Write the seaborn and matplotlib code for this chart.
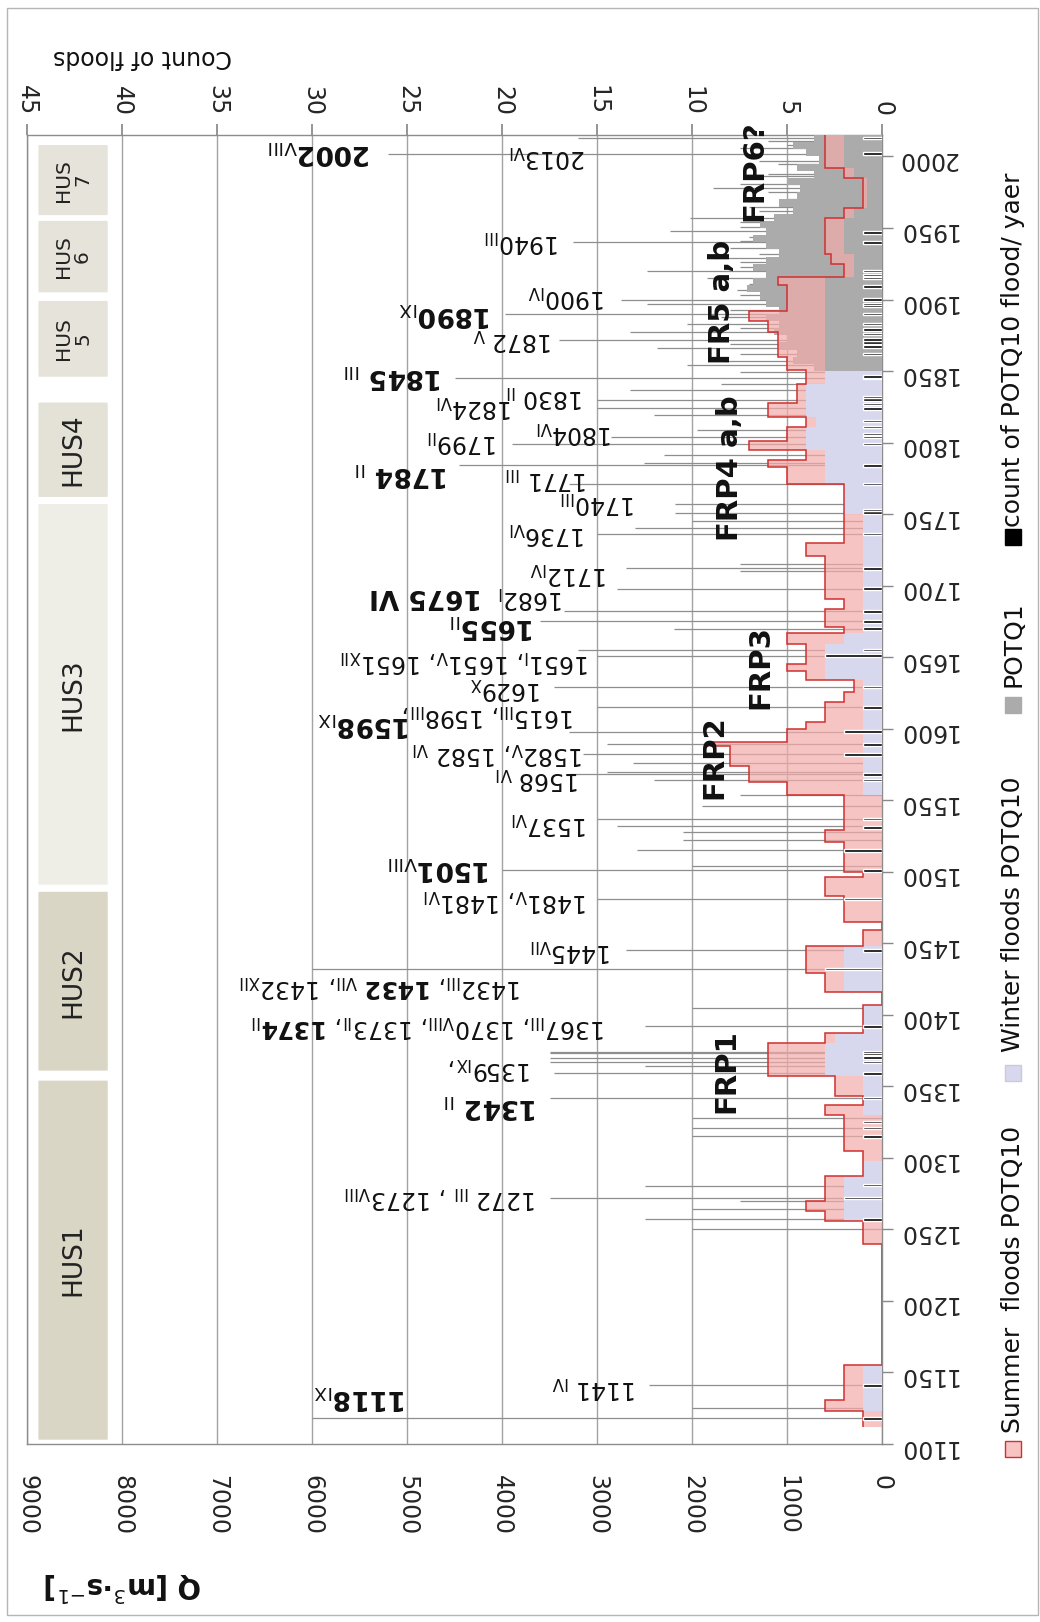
import matplotlib
matplotlib.use("Agg")
import matplotlib.pyplot as plt
from matplotlib.patches import FancyBboxPatch, Rectangle
import numpy as np
import seaborn as sns

# step series of POTQ10 flood counts (edges in years, one value per interval)
EDGES = [1112, 1116, 1123, 1131, 1155, 1240, 1256, 1263, 1270, 1287, 1298, 1305, 1330,
         1337, 1343, 1357, 1380, 1387, 1407, 1416, 1429, 1448, 1459, 1465, 1483, 1496,
         1500, 1521, 1529, 1554, 1563, 1574, 1588, 1591, 1600, 1605, 1619, 1626, 1634,
         1640, 1645, 1659, 1667, 1671, 1684, 1691, 1699, 1712, 1721, 1730, 1750, 1771,
         1783, 1788, 1795, 1801, 1811, 1818, 1828, 1841, 1851, 1860, 1877, 1885, 1892,
         1910, 1916, 1925, 1932, 1957, 1964, 1985, 1992, 2015]
TOTAL = [1, 1, 3, 2, 0, 1, 3, 4, 3, 1, 1, 2, 3,
         1, 2.5, 6, 3, 1, 0, 3, 4, 1, 0, 2, 3,
         1, 2, 3, 2, 5, 7, 8, 9, 5, 4, 3, 2, 1.5,
         4, 5, 4, 5, 2, 3, 2, 3, 3, 3, 4, 2, 2,
         5, 6, 4, 7, 5, 4, 6, 4.5, 4, 5, 5.5, 6, 7,
         5, 5.5, 2, 2.7, 3, 2, 1, 2, 3]
WINTER = [0, 0, 1, 1, 0, 0, 2, 2, 2, 1, 0, 0, 1,
          1, 1, 3, 2.5, 1, 0, 2, 2, 0, 0, 0, 0,
          0, 0, 0, 0, 1, 1, 1, 1, 1, 1, 1, 1, 1,
          3, 3, 3, 2, 1, 1, 1, 1, 1, 1, 1, 1, 2,
          3, 3, 3, 4, 4, 3.5, 4, 4, 3, 3, 3, 3, 3,
          3, 3, 1.5, 1.5, 2, 1.5, 0.8, 1.5, 2]

# POTQ1 counts, 5-year steps
GREY_EDGES = list(range(1850, 2016, 5))
GREY = [3.6, 4.7, 4.5, 5.4, 5.0, 5.7, 5.4, 6.1, 5.4, 6.1, 6.4, 7.1, 6.8, 6.1, 6.8, 6.1,
        5.4, 6.1, 6.8, 6.1, 6.4, 5.7, 4.7, 5.4, 4.5, 4.3, 5.0, 3.6, 4.5, 3.3, 4.0, 4.7, 3.6]

# count of POTQ10 floods per year
BAR_YEARS = [1118, 1141, 1257, 1272, 1281, 1315, 1321, 1325, 1342, 1359, 1367, 1370, 1373,
             1374, 1392, 1432, 1445, 1481, 1501, 1515, 1531, 1537, 1564, 1568, 1582, 1589,
             1598, 1615, 1629, 1651, 1655, 1670, 1675, 1682, 1698, 1712, 1736, 1751, 1753,
             1771, 1784, 1799, 1804, 1806, 1811, 1815, 1824, 1827, 1830, 1832, 1845, 1846,
             1862, 1867, 1870, 1872, 1876, 1879, 1883, 1890, 1896, 1897, 1900, 1909, 1915,
             1917, 1920, 1940, 1947, 2002, 2013]
BAR_COUNTS = [1, 1, 1, 2, 1, 1, 1, 1, 1, 1, 1, 1, 1,
              1, 1, 3, 1, 2, 1, 2, 1, 1, 1, 1, 2, 1,
              2, 1, 1, 3, 1, 1, 1, 1, 1, 1, 1, 1, 1,
              1, 1, 1, 1, 1, 1, 1, 1, 1, 1, 1, 1, 1,
              1, 1, 1, 1, 1, 1, 1, 1, 1, 1, 1, 1, 1,
              1, 1, 1, 1, 1, 1]

# peak discharges (grey lines)
EVENT_YEARS = [1118, 1125, 1141, 1250, 1257, 1264, 1270, 1272, 1280, 1315, 1321, 1328,
               1342, 1359, 1364, 1367, 1370, 1373, 1374, 1392, 1405, 1432, 1445, 1481,
               1501, 1504, 1515, 1522, 1528, 1532, 1537, 1546, 1554, 1564, 1568, 1570,
               1576, 1582, 1589, 1598, 1615, 1629, 1651, 1655, 1670, 1675, 1682, 1698,
               1710, 1712, 1715, 1736, 1740, 1745, 1751, 1757, 1771, 1784, 1786, 1791,
               1799, 1804, 1809, 1819, 1824, 1830, 1837, 1841, 1845, 1849, 1854, 1857,
               1862, 1866, 1869, 1872, 1877, 1880, 1883, 1888, 1890, 1893, 1897, 1900,
               1903, 1907, 1911, 1915, 1920, 1923, 1926, 1929, 1932, 1936, 1940, 1941,
               1944, 1948, 1951, 1954, 1957, 1962, 1965, 1970, 1975, 1978, 1981, 1986,
               1988, 1995, 1997, 2002, 2006, 2008, 2011, 2013]
EVENT_Q = [6000, 2000, 2450, 2000, 2490, 2000, 1490, 3500, 2490, 2000, 2000, 2000,
           3500, 3450, 2490, 3500, 3500, 3500, 3500, 2490, 2000, 6000, 2700, 3000,
           4000, 2000, 2580, 2090, 2090, 2790, 3000, 1900, 1490, 2400, 3300, 2890,
           2620, 3150, 2890, 3300, 3000, 3450, 3000, 3200, 2190, 3600, 3350, 2790,
           1490, 2700, 1490, 3000, 2600, 2000, 2180, 2180, 3300, 4450, 2510, 2300,
           3900, 2850, 1950, 2400, 3000, 3000, 2650, 1700, 4500, 1500, 2050, 1670,
           1500, 2370, 1600, 3400, 2650, 1500, 2050, 1700, 3970, 1600, 2470, 2750,
           1500, 1525, 1400, 1840, 2470, 1500, 1500, 1780, 1300, 1600, 3250, 1500,
           1400, 2230, 1500, 1500, 2020, 1300, 1400, 1000, 1200, 1780, 1500, 1300,
           1200, 1100, 1300, 5200, 1500, 1000, 1200, 3200]

# labelled floods: text, right edge (Q), year position, bold
LABELS = [
    (r"2002$_{\mathrm{VIII}}$", 5380, 2002.6, True),
    (r"2013$_{\mathrm{VI}}$", 3120, 2000.2, False),
    (r"1940$_{\mathrm{III}}$", 3390, 1940.8, False),
    (r"1900$_{\mathrm{IV}}$", 2900, 1902.3, False),
    (r"1890$_{\mathrm{IX}}$", 4100, 1889.5, True),
    (r"1872 $_{\mathrm{V}}$", 3460, 1872.0, False),
    (r"1845 $_{\mathrm{III}}$", 4620, 1846.4, True),
    (r"1830 $_{\mathrm{II}}$", 3140, 1832.4, False),
    (r"1824$_{\mathrm{VI}}$", 3880, 1825.4, False),
    (r"1804$_{\mathrm{VI}}$", 2830, 1807.0, False),
    (r"1799$_{\mathrm{II}}$", 4040, 1801.0, False),
    (r"1784 $_{\mathrm{II}}$", 4560, 1777.6, True),
    (r"1771 $_{\mathrm{III}}$", 3100, 1775.5, False),
    (r"1740$_{\mathrm{III}}$", 2590, 1758.7, False),
    (r"1736$_{\mathrm{VI}}$", 3120, 1737.0, False),
    (r"1712$_{\mathrm{IV}}$", 2880, 1708.5, False),
    (r"1682$_{\mathrm{I}}$", 3350, 1692.0, False),
    ("1675 VI", 4210, 1692.5, True),
    (r"1655$_{\mathrm{II}}$", 3650, 1671.5, True),
    (r"1651$_{\mathrm{I}}$, 1651$_{\mathrm{V}}$, 1651$_{\mathrm{XII}}$", 3070, 1647.0, False),
    (r"1629$_{\mathrm{X}}$", 3580, 1628.7, False),
    (r"1615$_{\mathrm{III}}$, 1598$_{\mathrm{III}}$,", 3230, 1609.8, False),
    (r"1598$_{\mathrm{IX}}$", 4960, 1602.8, True),
    (r"1582$_{\mathrm{V}}$, 1582 $_{\mathrm{VI}}$", 3140, 1583.2, False),
    (r"1568 $_{\mathrm{VI}}$", 3180, 1565.7, False),
    (r"1537$_{\mathrm{VI}}$", 3100, 1534.3, False),
    (r"1501$_{\mathrm{VIII}}$", 4120, 1502.8, True),
    (r"1481$_{\mathrm{V}}$, 1481$_{\mathrm{VI}}$", 3100, 1480.4, False),
    (r"1445$_{\mathrm{VII}}$", 2840, 1445.5, False),
    (r"1432$_{\mathrm{III}}$, $\mathbf{1432}$ $_{\mathrm{VII}}$, 1432$_{\mathrm{XII}}$", 3790, 1419.8, False),
    (r"1367$_{\mathrm{III}}$, 1370$_{\mathrm{VIII}}$, 1373$_{\mathrm{II}}$, $\mathbf{1374}$$_{\mathrm{II}}$", 2910, 1391.8, False),
    (r"1359$_{\mathrm{IX}}$,", 3680, 1362.9, False),
    (r"1342 $_{\mathrm{II}}$", 3620, 1335.9, True),
    (r"1272 $_{\mathrm{III}}$ , 1273$_{\mathrm{VIII}}$", 3630, 1272.9, False),
    (r"1141 $_{\mathrm{IV}}$", 2580, 1140.0, False),
    (r"1118$_{\mathrm{IX}}$", 5000, 1133.0, True),
]

FRP_TEXT = ["FRP1", "FRP2", "FRP3", "FRP4 a,b", "FR5 a,b", "FRP6?"]
FRP_COUNT = [8.2, 8.8, 6.4, 8.0, 8.4, 6.7]
FRP_YEAR = [1361, 1580, 1643, 1782, 1898, 1990]

HUS_NAMES = ["HUS1", "HUS2", "HUS3", "HUS4", "HUS\n5", "HUS\n6", "HUS\n7"]
HUS_START = [1103, 1361, 1491, 1762, 1846, 1905, 1959]
HUS_END = [1354, 1486, 1757, 1828, 1899, 1955, 2008]
HUS_COLORS = ["#d9d6c5", "#d9d6c5", "#eeede6", "#e4e2d7", "#e6e4da", "#e6e4da", "#e6e4da"]

sns.set_theme(style="white")
plt.rcParams["font.family"] = ["DejaVu Sans"]
plt.rcParams["mathtext.fontset"] = "dejavusans"

W, H = 1040, 1622
fig = plt.figure(figsize=(W / 100, H / 100), dpi=100)
ax = fig.add_axes([27 / W, 1 - 1444 / H, (882 - 27) / W, (1444 - 135) / H])

GRID = "#a3a3a3"
ax.set_xlim(9000, 0)
ax.set_ylim(1100, 2015)
ax.set_xticks(range(0, 9001, 1000))
ax.set_yticks(range(1100, 2001, 50))
ax.grid(axis="x", color=GRID, lw=1)
ax.grid(axis="y", visible=False)
ax.yaxis.tick_right()
ax.tick_params(axis="x", bottom=True, length=0, pad=22, labelrotation=270, labelsize=17)
ax.tick_params(axis="y", right=True, left=False, length=8, width=1, color="#888888",
               labelrotation=180, labelsize=17, pad=3)
for sp in ax.spines.values():
    sp.set_color("#8c8c8c")
    sp.set_linewidth(1)

# HUS periods
for name, y0, y1, c in zip(HUS_NAMES, HUS_START, HUS_END, HUS_COLORS):
    box = FancyBboxPatch((8150, y0), 730, y1 - y0, boxstyle="round,pad=0,rounding_size=3",
                         facecolor=c, edgecolor="none", mutation_aspect=1, zorder=1)
    ax.add_patch(box)
    fs = 19 if "\n" not in name else 14.5
    ax.text(8515, (y0 + y1) / 2, name, rotation=90, ha="center", va="center",
            fontsize=fs, linespacing=1.0, color="#222222", zorder=2)

# peak discharge lines
ax.hlines(EVENT_YEARS, 0, EVENT_Q, color="#8e8e8e", lw=0.9, zorder=2)

for txt, q, yr, bold in LABELS:
    ax.annotate(txt, (q, yr), xytext=(0, 0), textcoords="offset points", rotation=180,
                ha="right", va="center", fontsize=19 if bold else 17,
                fontweight="bold" if bold else "normal", color="#111111", zorder=3)

# counts on secondary axis
axc = ax.twiny()
axc.set_xlim(45, 0)
axc.set_xticks(range(0, 46, 5))
axc.tick_params(axis="x", top=True, length=8, color="#888888", labelrotation=270,
                labelsize=17, pad=6)
for sp in axc.spines.values():
    sp.set_visible(False)

axc.stairs(WINTER, EDGES, baseline=0, fill=True, orientation="horizontal",
           color="#d7d7ee", zorder=1)
axc.stairs(GREY, GREY_EDGES, baseline=0, fill=True, orientation="horizontal",
           color="#ababab", zorder=2)
axc.stairs(TOTAL, EDGES, baseline=np.array(WINTER, dtype=float), fill=True,
           orientation="horizontal", color="#f4abab", alpha=0.7, lw=0, zorder=3)
axc.stairs(TOTAL, EDGES, baseline=None, orientation="horizontal",
           color="#d0302e", lw=1.1, zorder=4)
axc.barh(BAR_YEARS, BAR_COUNTS, height=1.8, color="black", zorder=5)

for t, c, yr in zip(FRP_TEXT, FRP_COUNT, FRP_YEAR):
    axc.text(c, yr, t, rotation=90, ha="center", va="center", fontsize=21,
             fontweight="bold", color="#111111", zorder=6, clip_on=False)

# axis titles
fig.text(142 / W, 1 - 57 / H, "Count of floods", rotation=180, ha="center", va="center",
         fontsize=17, color="#111111")
fig.text(123 / W, 1 - 1587 / H, r"Q [m$^{3}$·s$^{-1}$]", rotation=180, ha="center",
         va="center", fontsize=20, fontweight="bold", color="#111111")

# legend (square centre y, text bottom y)
leg_items = [
    ("Summer  floods POTQ10", 1449, 1433, "#f7c4c4", "#d0302e"),
    ("Winter floods POTQ10", 1073, 1052, "#d7d7ee", "#c9c9e0"),
    ("POTQ1", 705, 687, "#ababab", "#ababab"),
    ("count of POTQ10 flood/ yaer", 537, 527, "black", "black"),
]
LX = 1013
for label, yc, yt, fc, ec in leg_items:
    fig.add_artist(Rectangle(((LX - 8) / W, 1 - (yc + 8) / H), 16 / W, 16 / H,
                             transform=fig.transFigure, facecolor=fc, edgecolor=ec, lw=1))
    fig.text(LX / W, 1 - yt / H, label, rotation=90, ha="center", va="bottom",
             fontsize=18, color="#111111")

fig.add_artist(Rectangle((7 / W, 7 / H), 1031 / W, 1607 / H, transform=fig.transFigure,
                         facecolor="none", edgecolor="#b5b5b5", lw=1))

fig.savefig("out.png", dpi=100)
